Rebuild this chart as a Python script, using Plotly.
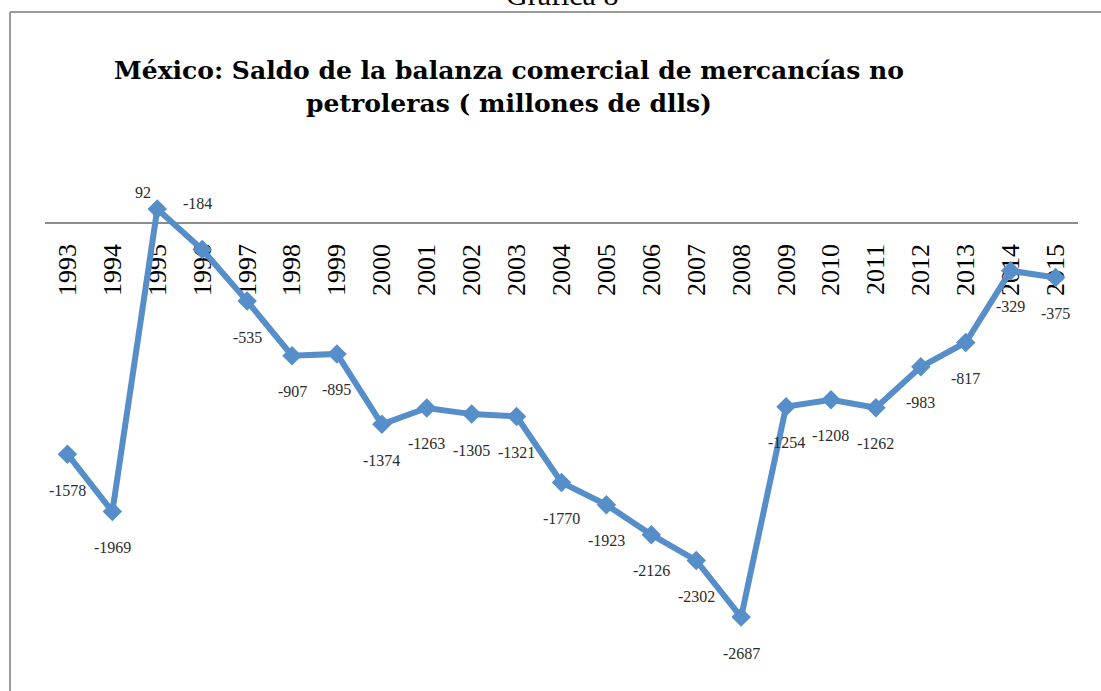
import plotly.graph_objects as go

years = [str(y) for y in range(1993, 2016)]
saldo = [-1578, -1969, 92, -184, -535, -907, -895, -1374, -1263, -1305, -1321,
         -1770, -1923, -2126, -2302, -2687, -1254, -1208, -1262, -983, -817, -329, -375]

title_text = "México: Saldo de la balanza comercial de mercancías no<br>petroleras ( millones de dlls)"
caption_text = "Gráfica 8"

W, H = 1101, 691
ML, MR, MT, MB = 45, 23, 150, 0
PW, PH = W - ML - MR, H - MT - MB

def px_x(px):
    return (px - ML) / PW

def px_y(py):
    return (H - MB - py) / PH

y_range = [-3191, 494]
line_color = "#568ECA"
serif = "Liberation Serif, Times New Roman, serif"
title_font = "DejaVu Serif, serif"

# label offsets (style): default below the point, a few placed differently
label_shift = {"1995": (-14, 17), "1996": (-5, 46)}

xpos = list(range(len(years)))

fig = go.Figure()
fig.add_trace(go.Scatter(
    x=xpos, y=saldo, mode="lines+markers",
    line=dict(color=line_color, width=6),
    marker=dict(symbol="diamond", size=15, color=line_color),
    text=years, hovertemplate="%{text}: %{y}<extra></extra>", showlegend=False,
))

annotations = []
for i, (yr, v) in enumerate(zip(years, saldo)):
    dx, dy = label_shift.get(yr, (0, -36))
    annotations.append(dict(
        x=i, y=v, xref="x", yref="y", text=str(v), showarrow=False,
        xshift=dx, yshift=dy, xanchor="center", yanchor="middle",
        font=dict(family=serif, size=16, color="#2b2b2b"),
    ))

annotations.append(dict(
    x=px_x(562), y=px_y(13), xref="paper", yref="paper", text=caption_text,
    showarrow=False, xanchor="center", yanchor="bottom",
    font=dict(family=serif, size=30, color="#000000"),
))

zero_pos = (0 - y_range[0]) / (y_range[1] - y_range[0])

fig.update_layout(
    width=W, height=H,
    margin=dict(l=ML, r=MR, t=MT, b=MB, pad=0),
    paper_bgcolor="white", plot_bgcolor="white",
    title=dict(text=title_text, x=509 / W, xref="container", xanchor="center",
               y=1 - 79 / H, yref="container", yanchor="middle",
               font=dict(family=title_font, size=25, color="#000000", weight="bold")),
    xaxis=dict(range=[-0.5, len(years) - 0.5],
               tickmode="array", tickvals=xpos, ticktext=years,
               anchor="free", position=zero_pos, side="bottom",
               showline=True, linecolor="#8c8c8c", linewidth=2,
               showgrid=False, zeroline=False, ticks="",
               tickangle=-90, ticklabelstandoff=10,
               tickfont=dict(family=serif, size=26, color="#000000"),
               layer="below traces"),
    yaxis=dict(range=y_range, visible=False, showgrid=False, zeroline=False),
    annotations=annotations,
    shapes=[
        dict(type="line", xref="paper", yref="paper",
             x0=px_x(10), x1=px_x(10), y0=px_y(12), y1=px_y(H),
             line=dict(color="#9a9a9a", width=2)),
        dict(type="line", xref="paper", yref="paper",
             x0=px_x(10), x1=px_x(W + 5), y0=px_y(12), y1=px_y(12),
             line=dict(color="#9a9a9a", width=2)),
    ],
)

fig.write_html("out.html", config={"displayModeBar": False},
               post_script="document.body.style.margin='0';document.body.style.overflow='hidden';")
